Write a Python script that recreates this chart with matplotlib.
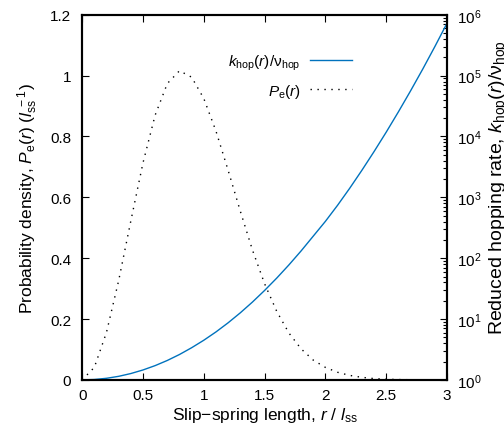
import matplotlib
matplotlib.use("Agg")
import matplotlib.pyplot as plt
import numpy as np

plt.rcParams['font.family'] = ['Liberation Sans', 'DejaVu Sans']
plt.rcParams['mathtext.fontset'] = 'custom'
plt.rcParams['mathtext.rm'] = 'Liberation Sans'
plt.rcParams['mathtext.it'] = 'Liberation Sans:italic'
plt.rcParams['mathtext.bf'] = 'Liberation Sans:bold'

# slip-spring length r / l_ss
r = [0.0, 0.1, 0.2, 0.3, 0.4, 0.5, 0.6, 0.7, 0.8, 0.9, 1.0,
     1.1, 1.2, 1.3, 1.4, 1.5, 1.6, 1.7, 1.8, 1.9, 2.0,
     2.1, 2.2, 2.3, 2.4, 2.5, 2.6, 2.7, 2.8, 2.9, 3.0]

# probability density P_e(r)
p_e = [0.0, 0.041, 0.156, 0.326, 0.522, 0.713, 0.870, 0.974, 1.016, 0.995, 0.925,
       0.818, 0.689, 0.555, 0.427, 0.316, 0.225, 0.154, 0.102, 0.065, 0.041,
       0.025, 0.0147, 0.0084, 0.0042, 0.0022, 0.0011, 0.0005, 0.0002, 0.0001, 0.00005]

# reduced hopping rate k_hop(r)/nu_hop
k_hop = [1.0, 1.015, 1.062, 1.144, 1.271, 1.455, 1.716, 2.085, 2.612, 3.376, 4.482,
         6.136, 8.671, 12.64, 19.01, 29.52, 47.13, 77.6, 131.6, 230.4, 403.4,
         741.0, 1413, 2787, 5654, 11800, 25400, 56200, 128000, 301000, 729000]

fig = plt.figure(figsize=(5.04, 4.27), dpi=100)
ax = fig.add_axes([0.163, 0.108, 0.724, 0.855])
ax2 = ax.twinx()

l1, = ax2.plot(r, k_hop, color='#0072bd', linewidth=1.0)
l2, = ax.plot(r, p_e, color='black', linewidth=1.0, linestyle=(0, (1, 4)))

ax.set_xlim(0, 3)
ax.set_ylim(0, 1.2)
ax2.set_yscale('log')
ax2.set_ylim(1, 1e6)

ax.set_xticks([0, 0.5, 1, 1.5, 2, 2.5, 3])
ax.set_xticklabels(['0', '0.5', '1', '1.5', '2', '2.5', '3'])
ax.set_yticks([0, 0.2, 0.4, 0.6, 0.8, 1.0, 1.2])
ax.set_yticklabels(['0', '0.2', '0.4', '0.6', '0.8', '1', '1.2'])

ax.tick_params(axis='x', direction='in', top=True, length=5, width=0.8,
               labelsize=11, pad=6)
ax.tick_params(axis='y', direction='in', length=5, width=0.8, labelsize=11, pad=8)
ax2.tick_params(axis='y', which='major', direction='in', length=5, width=0.8,
                labelsize=11, pad=7)
ax2.tick_params(axis='y', which='minor', direction='in', length=3, width=0.8)

for a in (ax, ax2):
    for s in a.spines.values():
        s.set_linewidth(1.5)

ax.set_xlabel('Slip\u2212spring length, $r$ / $l_{\\rm ss}$', fontsize=12.5, labelpad=2)
ax.set_ylabel('Probability density, $P_{\\rm e}(r)$ ($l_{\\rm ss}^{\\ -1}$)',
              fontsize=12.5, labelpad=7)
# right label, partly cut by the figure edge as in the original
fig.text(0.968, 0.56, 'Reduced hopping rate, $k_{\\rm hop}(r)$/\u03bd$_{\\rm hop}$',
         rotation=90, ha='left', va='center', fontsize=14)

leg = ax.legend([l1, l2], ['$k_{\\rm hop}(r)$/\u03bd$_{\\rm hop}$', '$P_{\\rm e}(r)$'],
                loc='upper right', bbox_to_anchor=(0.778, 0.935), frameon=False,
                markerfirst=False, fontsize=11, handlelength=2.75,
                labelspacing=0.65, handletextpad=0.65)
for t in leg.get_texts():
    t.set_ha('right')

fig.savefig('out.png', dpi=100)
